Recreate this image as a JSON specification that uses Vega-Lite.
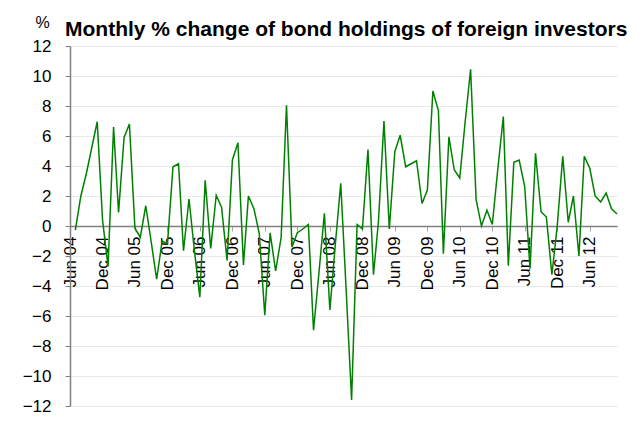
{
  "$schema": "https://vega.github.io/schema/vega-lite/v6.json",
  "width": 547,
  "height": 360,
  "autosize": "none",
  "padding": {"left": 70, "top": 46, "right": 27, "bottom": 33},
  "background": "white",
  "title": {"text": "Monthly % change of bond holdings of foreign investors", "anchor": "start", "frame": "group", "font": "Liberation Sans", "fontSize": 21, "fontWeight": "bold", "color": "black", "dx": -5, "dy": 32, "offset": 6},
  "config": {"view": {"stroke": null}, "font": "Liberation Sans"},
  "data": {"values": [
    {"month": "2004-07-01", "pct": -0.27},
    {"month": "2004-08-01", "pct": 2.0},
    {"month": "2004-09-01", "pct": 3.5},
    {"month": "2004-10-01", "pct": 5.2},
    {"month": "2004-11-01", "pct": 6.95},
    {"month": "2004-12-01", "pct": 0.4},
    {"month": "2005-01-01", "pct": -2.7},
    {"month": "2005-02-01", "pct": 6.6},
    {"month": "2005-03-01", "pct": 0.9},
    {"month": "2005-04-01", "pct": 5.9},
    {"month": "2005-05-01", "pct": 6.8},
    {"month": "2005-06-01", "pct": -0.15},
    {"month": "2005-07-01", "pct": -0.75},
    {"month": "2005-08-01", "pct": 1.35},
    {"month": "2005-09-01", "pct": -1.1},
    {"month": "2005-10-01", "pct": -3.55},
    {"month": "2005-11-01", "pct": -1.0},
    {"month": "2005-12-01", "pct": -1.2},
    {"month": "2006-01-01", "pct": 3.95},
    {"month": "2006-02-01", "pct": 4.15},
    {"month": "2006-03-01", "pct": -1.65},
    {"month": "2006-04-01", "pct": 1.8},
    {"month": "2006-05-01", "pct": -1.6},
    {"month": "2006-06-01", "pct": -4.75},
    {"month": "2006-07-01", "pct": 3.05},
    {"month": "2006-08-01", "pct": -1.5},
    {"month": "2006-09-01", "pct": 2.05},
    {"month": "2006-10-01", "pct": 1.25},
    {"month": "2006-11-01", "pct": -2.3},
    {"month": "2006-12-01", "pct": 4.4},
    {"month": "2007-01-01", "pct": 5.55},
    {"month": "2007-02-01", "pct": -2.6},
    {"month": "2007-03-01", "pct": 2.0},
    {"month": "2007-04-01", "pct": 1.15},
    {"month": "2007-05-01", "pct": -0.5},
    {"month": "2007-06-01", "pct": -5.95},
    {"month": "2007-07-01", "pct": -0.45},
    {"month": "2007-08-01", "pct": -3.0},
    {"month": "2007-09-01", "pct": -0.75},
    {"month": "2007-10-01", "pct": 8.05},
    {"month": "2007-11-01", "pct": -1.4},
    {"month": "2007-12-01", "pct": -0.45},
    {"month": "2008-01-01", "pct": -0.2},
    {"month": "2008-02-01", "pct": 0.1},
    {"month": "2008-03-01", "pct": -6.95},
    {"month": "2008-04-01", "pct": -3.05},
    {"month": "2008-05-01", "pct": 0.85},
    {"month": "2008-06-01", "pct": -5.6},
    {"month": "2008-07-01", "pct": -1.3},
    {"month": "2008-08-01", "pct": 2.85},
    {"month": "2008-09-01", "pct": -4.4},
    {"month": "2008-10-01", "pct": -11.6},
    {"month": "2008-11-01", "pct": 0.1},
    {"month": "2008-12-01", "pct": -0.2},
    {"month": "2009-01-01", "pct": 5.1},
    {"month": "2009-02-01", "pct": -3.25},
    {"month": "2009-03-01", "pct": 0.3},
    {"month": "2009-04-01", "pct": 7.0},
    {"month": "2009-05-01", "pct": -0.2},
    {"month": "2009-06-01", "pct": 4.95},
    {"month": "2009-07-01", "pct": 6.05},
    {"month": "2009-08-01", "pct": 3.95},
    {"month": "2009-09-01", "pct": 4.15},
    {"month": "2009-10-01", "pct": 4.35},
    {"month": "2009-11-01", "pct": 1.5},
    {"month": "2009-12-01", "pct": 2.4},
    {"month": "2010-01-01", "pct": 9.0},
    {"month": "2010-02-01", "pct": 7.7},
    {"month": "2010-03-01", "pct": -1.85},
    {"month": "2010-04-01", "pct": 5.95},
    {"month": "2010-05-01", "pct": 3.75},
    {"month": "2010-06-01", "pct": 3.2},
    {"month": "2010-07-01", "pct": 6.9},
    {"month": "2010-08-01", "pct": 10.45},
    {"month": "2010-09-01", "pct": 1.75},
    {"month": "2010-10-01", "pct": 0.0},
    {"month": "2010-11-01", "pct": 1.05},
    {"month": "2010-12-01", "pct": 0.1},
    {"month": "2011-01-01", "pct": 3.8},
    {"month": "2011-02-01", "pct": 7.3},
    {"month": "2011-03-01", "pct": -2.65},
    {"month": "2011-04-01", "pct": 4.25},
    {"month": "2011-05-01", "pct": 4.4},
    {"month": "2011-06-01", "pct": 2.65},
    {"month": "2011-07-01", "pct": -2.85},
    {"month": "2011-08-01", "pct": 4.85},
    {"month": "2011-09-01", "pct": 0.95},
    {"month": "2011-10-01", "pct": 0.6},
    {"month": "2011-11-01", "pct": -3.25},
    {"month": "2011-12-01", "pct": 0.0},
    {"month": "2012-01-01", "pct": 4.65},
    {"month": "2012-02-01", "pct": 0.25},
    {"month": "2012-03-01", "pct": 2.0},
    {"month": "2012-04-01", "pct": -2.0},
    {"month": "2012-05-01", "pct": 4.65},
    {"month": "2012-06-01", "pct": 3.85},
    {"month": "2012-07-01", "pct": 2.0},
    {"month": "2012-08-01", "pct": 1.6},
    {"month": "2012-09-01", "pct": 2.2},
    {"month": "2012-10-01", "pct": 1.15},
    {"month": "2012-11-01", "pct": 0.8}
  ]},
  "mark": {"type": "line", "color": "#008000", "strokeWidth": 1.5},
  "encoding": {
    "x": {
      "field": "month",
      "type": "temporal",
      "scale": {"type": "utc", "domain": [{"year": 2004, "month": 6, "date": 1, "utc": true}, {"year": 2012, "month": 11, "date": 1, "utc": true}]},
      "axis": {
        "title": null,
        "offset": -180,
        "values": [
          {"year": 2004, "month": 6, "date": 1, "utc": true},
          {"year": 2004, "month": 12, "date": 1, "utc": true},
          {"year": 2005, "month": 6, "date": 1, "utc": true},
          {"year": 2005, "month": 12, "date": 1, "utc": true},
          {"year": 2006, "month": 6, "date": 1, "utc": true},
          {"year": 2006, "month": 12, "date": 1, "utc": true},
          {"year": 2007, "month": 6, "date": 1, "utc": true},
          {"year": 2007, "month": 12, "date": 1, "utc": true},
          {"year": 2008, "month": 6, "date": 1, "utc": true},
          {"year": 2008, "month": 12, "date": 1, "utc": true},
          {"year": 2009, "month": 6, "date": 1, "utc": true},
          {"year": 2009, "month": 12, "date": 1, "utc": true},
          {"year": 2010, "month": 6, "date": 1, "utc": true},
          {"year": 2010, "month": 12, "date": 1, "utc": true},
          {"year": 2011, "month": 6, "date": 1, "utc": true},
          {"year": 2011, "month": 12, "date": 1, "utc": true},
          {"year": 2012, "month": 6, "date": 1, "utc": true}
        ],
        "labelExpr": "utcFormat(datum.value, '%b %y')",
        "labelAngle": -90,
        "labelAlign": "right",
        "labelBaseline": "middle",
        "labelFont": "Liberation Sans",
        "labelFontSize": 17,
        "labelColor": "black",
        "labelPadding": 5,
        "labelOverlap": false,
        "labelFlush": false,
        "tickSize": 5,
        "tickColor": "#a6a6a6",
        "domainColor": "#808080",
        "domainWidth": 1.5,
        "grid": false
      }
    },
    "y": {
      "field": "pct",
      "type": "quantitative",
      "scale": {"domain": [-12, 12], "nice": false, "zero": false},
      "axis": {
        "title": "%",
        "titleAngle": 0,
        "titleX": -28,
        "titleY": -19,
        "titleAlign": "center",
        "titleBaseline": "alphabetic",
        "titleFont": "Liberation Sans",
        "titleFontSize": 16,
        "titleFontWeight": "normal",
        "titleColor": "black",
        "values": [-12, -10, -8, -6, -4, -2, 0, 2, 4, 6, 8, 10, 12],
        "labelFont": "Liberation Sans",
        "labelFontSize": 17,
        "labelColor": "black",
        "labelPadding": 14,
        "labelFlush": false,
        "tickSize": 5,
        "tickColor": "#808080",
        "domainColor": "#808080",
        "domainWidth": 1.5,
        "grid": true,
        "gridColor": "#d4d4d4",
        "gridDash": [1, 1]
      }
    }
  }
}
